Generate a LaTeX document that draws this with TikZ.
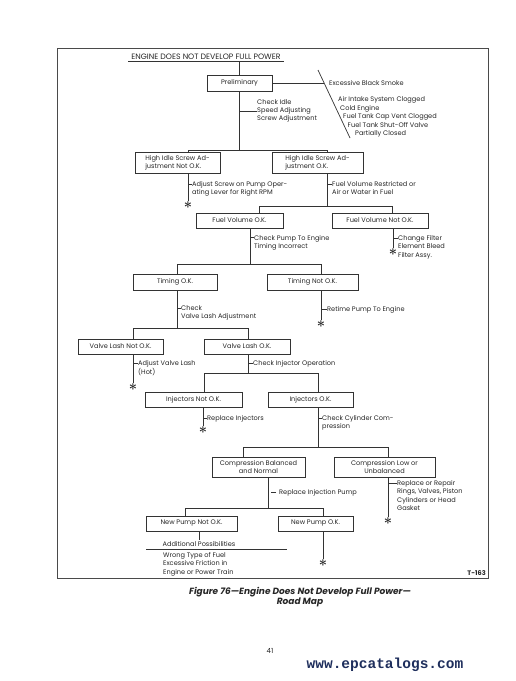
\documentclass[tikz,border=0pt]{standalone}
\usepackage{fontspec}
\setmainfont{Poppins}
\setmonofont{Liberation Mono}
\usepackage{tikz}
\usetikzlibrary{positioning}
\definecolor{roadink}{HTML}{262626}
\definecolor{roadline}{HTML}{333333}
\definecolor{roadframe}{HTML}{4A4A4A}
\definecolor{roadmark}{HTML}{1E2E5C}
\newcommand{\roadfont}{\fontsize{6.6}{8.3}\selectfont}
\newcommand{\roadlines}[1]{\begin{tabular}[t]{@{}l@{}}#1\end{tabular}}
\tikzset{
  stepbox/.style={
    draw=roadline,
    line width=0.7pt,
    inner sep=0pt,
    align=center,
    font=\roadfont,
    text=roadink
  },
  leftbox/.style={stepbox, align=left},
  wire/.style={draw=roadline, line width=0.7pt},
  note/.style={
    anchor=base west,
    inner sep=0pt,
    font=\roadfont,
    text=roadink
  },
  cause/.style={note, anchor=west},
  starmark/.style={inner sep=0pt, text=roadink, font=\fontsize{14}{14}\selectfont\boldmath},
  framerule/.style={draw=roadframe, line width=1pt}
}
\begin{document}
\begin{tikzpicture}[x=1pt,y=-1pt]
\useasboundingbox (0,0) rectangle (516,681);
\draw[framerule] (57,48) rectangle (488,578);

\node[note, anchor=center, inner xsep=3pt, inner ysep=1.5pt, font=\fontsize{7.8}{9}\selectfont] (title) at (206,57)
  {ENGINE DOES NOT DEVELOP FULL POWER};
\draw[wire] (title.south west) -- (title.south east);

\node[stepbox, minimum width=65, minimum height=16] (prelim) at (239.5,83) {Preliminary};
\draw[wire] (prelim.north |- title.south) -- (prelim.north);

\node[cause] (smoke) at (329,83) {Excessive Black Smoke};
\coordinate (slashtop) at (318,70);
\coordinate (slashbot) at (350,138);
\draw[wire] (slashtop) -- (slashbot);
\draw[wire] (prelim.east) -- ([xshift=-5pt]smoke.west);
\node[cause] (airintake) at (338,100) {Air Intake System Clogged};
\node[cause] (coldengine) at (340,108.5) {Cold Engine};
\node[cause] (capvent) at (343,117) {Fuel Tank Cap Vent Clogged};
\node[cause] (shutoff) at (347.5,125.5) {Fuel Tank Shut-Off Valve};
\node[cause] (partclosed) at (355,134) {Partially Closed};

\node[note, anchor=west] (idlenote) at (257,111) {\roadlines{Check Idle\\Speed Adjusting\\Screw Adjustment}};
\draw[wire] (idlenote.west -| prelim.south) -- (idlenote.west);

\node[leftbox, minimum width=85, minimum height=21] (hisnok) at (177.5,162.5)
  {High Idle Screw Ad-\\justment Not O.K.};
\node[leftbox, minimum width=91, minimum height=21] (hisok) at (317.5,162.5)
  {High Idle Screw Ad-\\justment O.K.};
\coordinate (hisl) at (188,150);
\coordinate (hisr) at (327,150);
\draw[wire] (prelim.south) -- (prelim.south |- hisl);
\draw[wire] (hisnok.north -| hisl) -- (hisl) -- (hisr) -- (hisr |- hisok.north);

\node[starmark] (hisnokstar) at (188,205) {$\ast$};
\node[note] (hisnoknote) at (192,186.5) {\roadlines{Adjust Screw on Pump Oper-\\ating Lever for Right RPM}};
\draw[wire] (hisnok.south -| hisl) -- (hisnokstar.north);
\draw[wire] ([yshift=2.2pt]hisnoknote.base west) -- ([yshift=2.2pt]hisnoknote.base west -| hisl);

\node[stepbox, minimum width=87, minimum height=15] (fvok) at (239.5,220.5) {Fuel Volume O.K.};
\node[stepbox, minimum width=96, minimum height=15] (fvnok) at (380,220.5) {Fuel Volume Not O.K.};
\coordinate (fvl) at (259,206);
\coordinate (fvr) at (392,206);
\node[note] (hisoknote) at (332,186.5) {\roadlines{Fuel Volume Restricted or\\Air or Water in Fuel}};
\draw[wire] (hisok.south -| hisr) -- (hisr |- fvl);
\draw[wire] ([yshift=2.2pt]hisoknote.base west) -- ([yshift=2.2pt]hisoknote.base west -| hisr);
\draw[wire] (fvok.north -| fvl) -- (fvl) -- (fvr) -- (fvr |- fvnok.north);

\node[starmark] (fvnokstar) at (393,252) {$\ast$};
\node[note] (fvnoknote) at (398,240.5) {\roadlines{Change Filter\\Element Bleed\\Filter Assy.}};
\draw[wire] (fvnok.south -| fvnokstar) -- (fvnokstar.north);
\draw[wire] ([yshift=2.2pt]fvnoknote.base west) -- ([yshift=2.2pt]fvnoknote.base west -| fvnokstar);

\node[stepbox, minimum width=84, minimum height=16] (tok) at (175,282) {Timing O.K.};
\node[stepbox, minimum width=91, minimum height=16] (tnok) at (312.5,282) {Timing Not O.K.};
\coordinate (tl) at (177,264);
\coordinate (tr) at (321,264);
\coordinate (fvtrunk) at (250,264);
\node[note] (fvoknote) at (254,240) {\roadlines{Check Pump To Engine\\Timing Incorrect}};
\draw[wire] (fvok.south -| fvtrunk) -- (fvtrunk);
\draw[wire] ([yshift=2.2pt]fvoknote.base west) -- ([yshift=2.2pt]fvoknote.base west -| fvtrunk);
\draw[wire] (tok.north -| tl) -- (tl) -- (tr) -- (tr |- tnok.north);

\node[starmark] (tnokstar) at (321,324) {$\ast$};
\node[note] (tnoknote) at (327,311.5) {Retime Pump To Engine};
\draw[wire] (tnok.south -| tr) -- (tnokstar.north);
\draw[wire] ([yshift=2.2pt]tnoknote.base west) -- ([yshift=2.2pt]tnoknote.base west -| tr);

\node[stepbox, minimum width=85, minimum height=15] (vlnok) at (120.5,346.5) {Valve Lash Not O.K.};
\node[stepbox, minimum width=86, minimum height=15] (vlok) at (247,346.5) {Valve Lash O.K.};
\coordinate (vll) at (133,328);
\coordinate (vlr) at (248,328);
\node[note] (toknote) at (181,310.5) {\roadlines{Check\\Valve Lash Adjustment}};
\draw[wire] (tok.south -| tl) -- (tl |- vll);
\draw[wire] ([yshift=2.2pt]toknote.base west) -- ([yshift=2.2pt]toknote.base west -| tl);
\draw[wire] (vlnok.north -| vll) -- (vll) -- (vlr) -- (vlr |- vlok.north);

\node[starmark] (vlnokstar) at (133,387) {$\ast$};
\node[note] (vlnoknote) at (138,365.5) {\roadlines{Adjust Valve Lash\\(Hot)}};
\draw[wire] (vlnok.south -| vll) -- (vlnokstar.north);
\draw[wire] ([yshift=2.2pt]vlnoknote.base west) -- ([yshift=2.2pt]vlnoknote.base west -| vll);

\node[stepbox, minimum width=97, minimum height=15] (inok) at (193.5,399.5) {Injectors Not O.K.};
\node[stepbox, minimum width=85, minimum height=15] (iok) at (310.5,399.5) {Injectors O.K.};
\coordinate (inl) at (204,373);
\coordinate (inr) at (318,373);
\node[note] (vloknote) at (253,365.5) {Check Injector Operation};
\draw[wire] (vlok.south -| vlr) -- (vlr |- inl);
\draw[wire] ([yshift=2.2pt]vloknote.base west) -- ([yshift=2.2pt]vloknote.base west -| vlr);
\draw[wire] (inok.north -| inl) -- (inl) -- (inr) -- (inr |- iok.north);

\node[starmark] (inokstar) at (203,430) {$\ast$};
\node[note] (inoknote) at (207,420.5) {Replace Injectors};
\draw[wire] (inok.south -| inokstar) -- (inokstar.north);
\draw[wire] ([yshift=2.2pt]inoknote.base west) -- ([yshift=2.2pt]inoknote.base west -| inokstar);

\node[stepbox, minimum width=93, minimum height=20] (cbal) at (258.5,467) {Compression Balanced\\and Normal};
\node[stepbox, minimum width=101, minimum height=20] (clow) at (384.5,467) {Compression Low or\\Unbalanced};
\coordinate (cl) at (243,447);
\coordinate (cr) at (388,447);
\node[note] (ioknote) at (322,420.5) {\roadlines{Check Cylinder Com-\\pression}};
\draw[wire] (iok.south -| inr) -- (inr |- cl);
\draw[wire] ([yshift=2.2pt]ioknote.base west) -- ([yshift=2.2pt]ioknote.base west -| inr);
\draw[wire] (cbal.north -| cl) -- (cl) -- (cr) -- (cr |- clow.north);

\node[starmark] (clowstar) at (388,521) {$\ast$};
\node[note] (clownote) at (397,485.5) {\roadlines{Replace or Repair\\Rings, Valves, Piston\\Cylinders or Head\\Gasket}};
\draw[wire] (clow.south -| cr) -- (clowstar.north);
\draw[wire] ([yshift=2.2pt]clownote.base west) -- ([yshift=2.2pt]clownote.base west -| cr);

\node[stepbox, minimum width=91, minimum height=15] (npnok) at (191.5,523.5) {New Pump Not O.K.};
\node[stepbox, minimum width=75, minimum height=15] (npok) at (315.5,523.5) {New Pump O.K.};
\coordinate (cbtrunk) at (268,508);
\coordinate (npl) at (185,508);
\coordinate (npr) at (323,508);
\node[note] (cbalnote) at (279,494.5) {Replace Injection Pump};
\draw[wire] (cbal.south -| cbtrunk) -- (cbtrunk);
\draw[wire] ([yshift=2.2pt,xshift=-3pt]cbalnote.base west) -- ([yshift=2.2pt,xshift=-8pt]cbalnote.base west);
\draw[wire] (npnok.north -| npl) -- (npl) -- (npr) -- (npr |- npok.north);

\node[starmark] (npokstar) at (323,563) {$\ast$};
\draw[wire] (npok.south -| npr) -- (npokstar.north);

\node[note, anchor=base, inner ysep=1pt] (addl) at (199,546.5) {Additional Possibilities};
\coordinate (addrulel) at (146,549.5);
\coordinate (addruler) at (287,549.5);
\draw[wire] (npnok.south -| addl.north) -- (addl.north);
\draw[wire] (addrulel) -- (addruler);
\node[note] (addlist) at (163,557.5) {\roadlines{Wrong Type of Fuel\\Excessive Friction in\\Engine or Power Train}};

\node[note, anchor=base east, font=\roadfont\bfseries] (figno) at (486,575) {T-163};

\node[note, anchor=center, align=center, font=\fontsize{9}{10.5}\selectfont\bfseries\itshape] (caption) at (300,597)
  {Figure 76---Engine Does Not Develop Full Power---\\Road Map};
\node[note, anchor=center, font=\fontsize{7}{8}\selectfont] (pageno) at (270,651) {41};
\node[note, anchor=center, text=roadmark, font=\fontsize{14.5}{16}\selectfont\ttfamily\bfseries] (site) at (385,665)
  {www.epcatalogs.com};
\end{tikzpicture}
\end{document}
